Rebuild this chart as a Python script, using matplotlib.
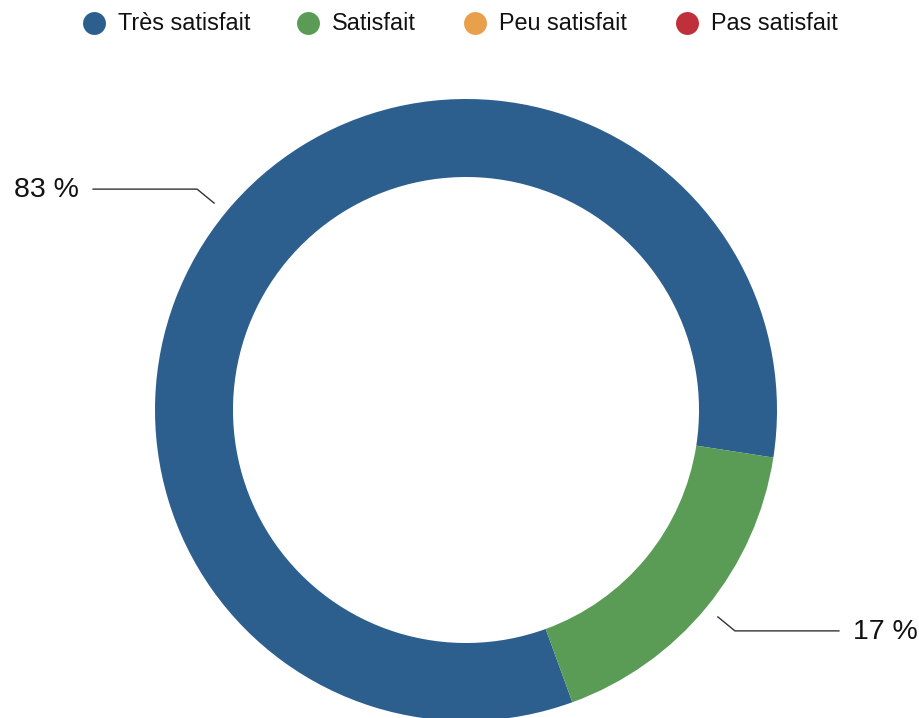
import numpy as np
import matplotlib.pyplot as plt

# Données
categories = ['Très satisfait', 'Satisfait', 'Peu satisfait', 'Pas satisfait']
values = [83, 17, 0, 0]
colors = ['#2d5f8e', '#5a9c55', '#e8a04a', '#c0303a']

W, H = 920, 718
fig = plt.figure(figsize=(W / 100, H / 100), dpi=100)
ax = fig.add_axes([0, 0, 1, 1])
plt.rcParams['font.family'] = ['Liberation Sans', 'DejaVu Sans']

# Anneau (coordonnées en pixels, y vers le haut)
cx, cy = 466, H - 410
R, ring = 311, 78
start = -70
wedges, _ = ax.pie(values, colors=colors, startangle=start, counterclock=False,
                   radius=R, center=(cx, cy), frame=True,
                   wedgeprops=dict(width=ring, edgecolor='none', linewidth=0))

# Étiquettes avec lignes de rappel
total = sum(values)
angle = start
for v in values:
    if v == 0:
        continue
    span = 360 * v / total
    mid = np.deg2rad(angle - span / 2)
    angle -= span
    dx, dy = np.cos(mid), np.sin(mid)
    p1 = (cx + (R + 15) * dx, cy + (R + 15) * dy)
    p2 = (cx + (R + 37) * dx, cy + (R + 37) * dy)
    side = 1 if dx > 0 else -1
    p3 = (p2[0] + side * 104, p2[1])
    ax.plot([p1[0], p2[0], p3[0]], [p1[1], p2[1], p3[1]], color='#333333', lw=1)
    ax.text(p3[0] + side * 14, p3[1] - 1, f'{v} %', fontsize=20.5,
            ha='left' if side > 0 else 'right', va='center', color='#111111')

# Légende
leg_x = [94, 308, 475, 687]
leg_y = H - 23
for x, lab, c in zip(leg_x, categories, colors):
    ax.plot(x, leg_y, 'o', markersize=16.5, color=c, markeredgewidth=0)
    ax.text(x + 24, leg_y, lab, fontsize=16.8, va='center', ha='left', color='#111111')

ax.set_xlim(0, W)
ax.set_ylim(0, H)
ax.set_aspect('equal')
ax.axis('off')

plt.savefig('out.png', dpi=100)
